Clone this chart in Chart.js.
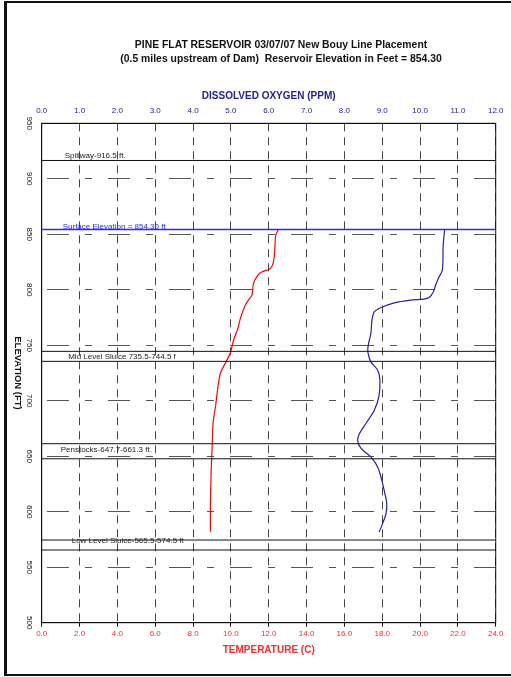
<!DOCTYPE html>
<html>
<head>
<meta charset="utf-8">
<script src="https://cdn.jsdelivr.net/npm/chart.js@4/dist/chart.umd.min.js"></script>
<style>
  html, body { margin: 0; padding: 0; background: #fff; }
  #wrap { position: relative; width: 511px; height: 677px; }
  #frame { position: absolute; left: 4px; top: 1px; width: 507px; height: 675px; box-sizing: border-box;
           border-top: 2px solid #111; border-left: 3px solid #111; border-bottom: 2px solid #111; pointer-events: none; }
  canvas { position: absolute; left: 0; top: 0; }
</style>
</head>
<body>
<div id="wrap">
  <canvas id="chart" width="511" height="677"></canvas>
  <div id="frame"></div>
</div>
<script>
// temperature profile (deg C) vs elevation (ft)
const tempElev = [854.3, 849, 839, 825, 819, 816, 813, 806, 795, 791, 786, 774, 765, 755, 743, 734, 725, 713, 695, 680, 658, 637, 607, 582];
const tempVals = [12.51, 12.37, 12.33, 12.25, 12.07, 11.63, 11.42, 11.2, 11.11, 10.94, 10.76, 10.5, 10.37, 10.15, 9.97, 9.71, 9.45, 9.32, 9.19, 9.06, 9.01, 8.96, 8.92, 8.92];

// dissolved oxygen profile (ppm) vs elevation (ft)
const doElev = [854.3, 839, 818, 810, 804, 798, 793, 791.6, 790.7, 788.2, 784, 780, 772.6, 760.6, 750, 744, 735, 727.5, 718.5, 703.5, 691.5, 679.5, 670.5, 664.4, 657, 649.4, 640.3, 628.3, 616.4, 607.4, 598.3, 589.3, 581.7];
const doVals = [10.65, 10.61, 10.59, 10.48, 10.41, 10.35, 10.24, 10.10, 9.75, 9.32, 8.97, 8.79, 8.73, 8.70, 8.63, 8.62, 8.70, 8.88, 8.94, 8.91, 8.79, 8.57, 8.40, 8.35, 8.44, 8.70, 8.88, 8.99, 9.07, 9.12, 9.10, 9.01, 8.92];

// structure elevations (ft)
const refLevels = [916.5, 854.3, 744.5, 735.5, 661.3, 647.7, 574.5, 565.5];
const refLabels = ['Spillway-916.5 ft.', 'Surface Elevation = 854.30 ft', 'Mid Level Sluice 735.5-744.5 f', 'Penstocks-647.7-661.3 ft.', 'Low Level Sluice-565.5-574.5 ft'];
const refLabelLevels = [916.5, 854.3, 744.5, 661.3, 574.5];

const titleLines = ['PINE FLAT RESERVOIR 03/07/07 New Bouy Line Placement', '(0.5 miles upstream of Dam)  Reservoir Elevation in Feet = 854.30'];

const RED = '#ff2a2a', NAVY = '#22229a', BLUE = '#2a2aff';
const FONT = "'Liberation Sans', Arial, sans-serif";

// label placement: x offset from plot left, y offset from the line (px)
const labelPlace = [[23, -4.5], [21, -3], [26.5, 5], [19, 6], [30, 0.5]];

const refSets = refLevels.map((lv, i) => ({
  data: [{ x: 0, y: lv }, { x: 24, y: lv }],
  xAxisID: 'x', yAxisID: 'y',
  showLine: true, pointRadius: 0,
  borderColor: i === 1 ? BLUE : '#111',
  borderWidth: i === 1 ? 1.4 : 1
}));

const textPlugin = {
  id: 'texts',
  beforeDatasetsDraw(chart) {
    const { ctx, chartArea: a } = chart;
    ctx.save();
    ctx.strokeStyle = '#111';
    ctx.lineWidth = 1;
    ctx.strokeRect(a.left, a.top, a.right - a.left, a.bottom - a.top);
    ctx.restore();
  },
  afterDraw(chart) {
    const { ctx, chartArea: a } = chart;
    const ys = chart.scales.y;
    ctx.save();
    ctx.fillStyle = '#111';
    ctx.textAlign = 'center';
    ctx.textBaseline = 'middle';
    ctx.font = `bold 10.4px ${FONT}`;
    ctx.fillText(titleLines[0], 281, 45);
    ctx.fillText(titleLines[1], 281, 59);

    // y tick labels, rotated clockwise
    ctx.font = `8px ${FONT}`;
    ys.ticks.forEach(t => {
      ctx.save();
      ctx.translate(29.5, ys.getPixelForValue(t.value));
      ctx.rotate(Math.PI / 2);
      ctx.fillText(String(t.value), 0, 0);
      ctx.restore();
    });
    ctx.save();
    ctx.font = `bold 9.5px ${FONT}`;
    ctx.translate(17.5, (a.top + a.bottom) / 2);
    ctx.rotate(Math.PI / 2);
    ctx.fillText('ELEVATION (FT)', 0, 0);
    ctx.restore();

    // structure labels
    ctx.font = `8px ${FONT}`;
    ctx.textAlign = 'left';
    refLabels.forEach((txt, i) => {
      ctx.fillStyle = i === 1 ? BLUE : '#222';
      ctx.fillText(txt, a.left + labelPlace[i][0], ys.getPixelForValue(refLabelLevels[i]) + labelPlace[i][1]);
    });
    ctx.restore();
  }
};

new Chart(document.getElementById('chart'), {
  type: 'scatter',
  data: {
    datasets: [
      ...refSets,
      {
        label: 'Temperature',
        data: tempVals.map((v, i) => ({ x: v, y: tempElev[i] })),
        xAxisID: 'x', yAxisID: 'y',
        showLine: true, pointRadius: 0, borderColor: '#ff0000', borderWidth: 1.2, tension: 0.3
      },
      {
        label: 'Dissolved Oxygen',
        data: doVals.map((v, i) => ({ x: v, y: doElev[i] })),
        xAxisID: 'x2', yAxisID: 'y',
        showLine: true, pointRadius: 0, borderColor: NAVY, borderWidth: 1.2, tension: 0.3
      }
    ]
  },
  options: {
    responsive: false,
    animation: false,
    devicePixelRatio: 1,
    layout: { padding: { top: 0, left: 0, right: 11.7, bottom: 0 } },
    plugins: { legend: { display: false }, title: { display: false }, tooltip: { enabled: false } },
    scales: {
      x: {
        type: 'linear', position: 'bottom', min: 0, max: 24,
        afterFit: s => { s.height = 54.3; },
        ticks: { stepSize: 2, color: RED, font: { family: FONT, size: 8 }, padding: 2, callback: v => v.toFixed(1) },
        grid: { color: '#444', lineWidth: 1, drawTicks: true, tickLength: 4, tickColor: '#111', tickBorderDash: [] },
        border: { display: true, color: '#111', width: 1, dash: [8, 6] },
        title: { display: true, text: 'TEMPERATURE (C)', color: RED, font: { family: FONT, size: 10, weight: 'bold' }, padding: { top: 0, bottom: 21 } }
      },
      x2: {
        type: 'linear', axis: 'x', position: 'top', min: 0, max: 12,
        afterFit: s => { s.height = 123.3; },
        ticks: { stepSize: 1, color: NAVY, font: { family: FONT, size: 8 }, padding: 7.5, callback: v => v.toFixed(1) },
        grid: { drawOnChartArea: false, drawTicks: false },
        border: { display: true, color: '#111', width: 1 },
        title: { display: true, text: 'DISSOLVED OXYGEN (PPM)', color: NAVY, font: { family: FONT, size: 10, weight: 'bold' }, padding: { top: 90, bottom: 0 } }
      },
      y: {
        type: 'linear', position: 'left', min: 500, max: 950,
        afterFit: s => { s.width = 41.7; },
        ticks: { stepSize: 50, display: false },
        grid: { color: '#555', lineWidth: 1, drawTicks: false },
        border: { display: true, color: '#111', width: 1, dash: [22, 16, 7, 16], dashOffset: 56 }
      }
    }
  },
  plugins: [textPlugin]
});
</script>
</body>
</html>
